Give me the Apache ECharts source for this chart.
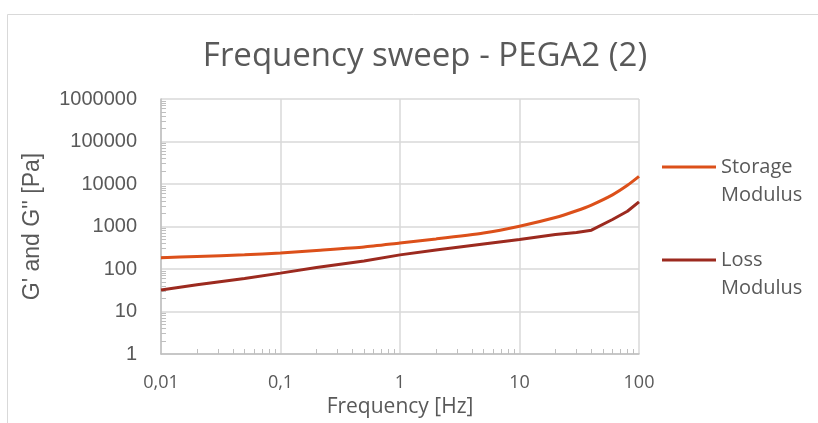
<!DOCTYPE html>
<html>
<head>
<meta charset="utf-8">
<script src="https://cdn.jsdelivr.net/npm/echarts@6/dist/echarts.min.js"></script>
<style>
  html, body { margin: 0; padding: 0; background: #fff; }
  #chart { width: 818px; height: 423px; }
</style>
</head>
<body>
<div id="chart"></div>
<script>
// frequency sweep data
const freq = [0.01, 0.02, 0.05, 0.1, 0.2, 0.5, 1, 2, 5, 10, 20, 30, 40, 60, 80, 100];
const storageModulus = [185, 198, 215, 239, 274, 330, 410, 509, 704, 1016, 1625, 2350, 3200, 5550, 9300, 15100];
const lossModulus = [32, 42.5, 59.5, 80, 109, 155, 215, 281, 389, 496, 649, 723, 819, 1459, 2280, 3790];

const seriesNames = ["Storage Modulus", "Loss Modulus"];
const colors = ["#dc501a", "#9c2a1f"];

// decades used for the minor (2..9) ticks
const xDecades = [0.01, 0.1, 1, 10];
const yDecades = [1, 10, 100, 1000, 10000, 100000];
const minorSteps = [2, 3, 4, 5, 6, 7, 8, 9];

function minorTicks(decades) {
  let out = [];
  decades.forEach((d) => minorSteps.forEach((k) => out.push(+(d * k).toPrecision(6))));
  return out;
}

const textColor = "#595959";
const gridColor = "#d9d9d9";
const axisColor = "#bfbfbf";

let chart = echarts.init(document.getElementById("chart"));

let option = {
  animation: false,
  backgroundColor: "#fff",
  graphic: [
    {
      type: "rect",
      shape: { x: 7.5, y: 14.5, width: 1000, height: 1000 },
      style: { fill: "none", stroke: gridColor, lineWidth: 1 },
      silent: true,
    },
  ],
  title: {
    text: "Frequency sweep - PEGA2 (2)",
    left: 420,
    textAlign: "center",
    top: 35,
    textStyle: {
      fontFamily: "Open Sans",
      fontWeight: "normal",
      fontSize: 33,
      color: textColor,
    },
  },
  legend: {
    orient: "vertical",
    left: 657,
    top: 120,
    itemWidth: 54,
    itemHeight: 3,
    itemGap: 9,
    icon: "rect",
    data: seriesNames,
    formatter: (name) => "\n" + name.replace(" ", "\n"),
    textStyle: {
      fontFamily: "Open Sans",
      fontSize: 20,
      lineHeight: 28,
      color: textColor,
    },
  },
  grid: {
    left: 161,
    right: 179,
    top: 99,
    bottom: 68,
  },
  xAxis: [
    {
      type: "log",
      logBase: 10,
      min: 0.01,
      max: 100,
      splitNumber: 4,
      name: "Frequency [Hz]",
      nameLocation: "middle",
      nameGap: 43,
      nameTextStyle: { fontFamily: "Open Sans", fontSize: 21, color: textColor },
      axisLine: { lineStyle: { color: axisColor, width: 1.5 } },
      axisTick: { show: false },
      axisLabel: {
        margin: 20,
        fontFamily: "Open Sans",
        fontSize: 18,
        color: textColor,
        formatter: (v) => String(+v.toPrecision(6)).replace(".", ","),
      },
      splitLine: { show: true, lineStyle: { color: gridColor, width: 1.5 } },
    },
    {
      type: "log",
      logBase: 10,
      min: 0.01,
      max: 100,
      position: "bottom",
      axisLine: { show: false },
      axisLabel: { show: false },
      splitLine: { show: false },
      axisTick: {
        show: true,
        inside: true,
        length: 5,
        customValues: minorTicks(xDecades),
        lineStyle: { color: axisColor },
      },
    },
  ],
  yAxis: [
    {
      type: "log",
      logBase: 10,
      min: 1,
      max: 1000000,
      splitNumber: 6,
      name: "G' and G'' [Pa]",
      nameLocation: "middle",
      nameGap: 117,
      nameTextStyle: { fontFamily: "Liberation Sans", fontSize: 23, color: textColor },
      axisLine: { show: true, lineStyle: { color: axisColor, width: 1.5 } },
      axisTick: { show: false },
      axisLabel: {
        margin: 24,
        fontFamily: "Liberation Sans",
        fontSize: 20,
        color: textColor,
        formatter: (v) => String(Math.round(v)),
      },
      splitLine: { show: true, lineStyle: { color: gridColor, width: 1.5 } },
    },
    {
      type: "log",
      logBase: 10,
      min: 1,
      max: 1000000,
      position: "left",
      axisLine: { show: false },
      axisLabel: { show: false },
      splitLine: { show: false },
      axisTick: {
        show: true,
        inside: true,
        length: 5,
        customValues: minorTicks(yDecades),
        lineStyle: { color: axisColor },
      },
    },
  ],
  series: [
    {
      name: seriesNames[0],
      type: "line",
      xAxisIndex: 0,
      yAxisIndex: 0,
      showSymbol: false,
      smooth: 0.2,
      color: colors[0],
      lineStyle: { width: 3, color: colors[0] },
      data: freq.map((f, i) => [f, storageModulus[i]]),
    },
    {
      name: seriesNames[1],
      type: "line",
      xAxisIndex: 0,
      yAxisIndex: 0,
      showSymbol: false,
      color: colors[1],
      lineStyle: { width: 3, color: colors[1] },
      data: freq.map((f, i) => [f, lossModulus[i]]),
    },
  ],
};

chart.setOption(option);
</script>
</body>
</html>
